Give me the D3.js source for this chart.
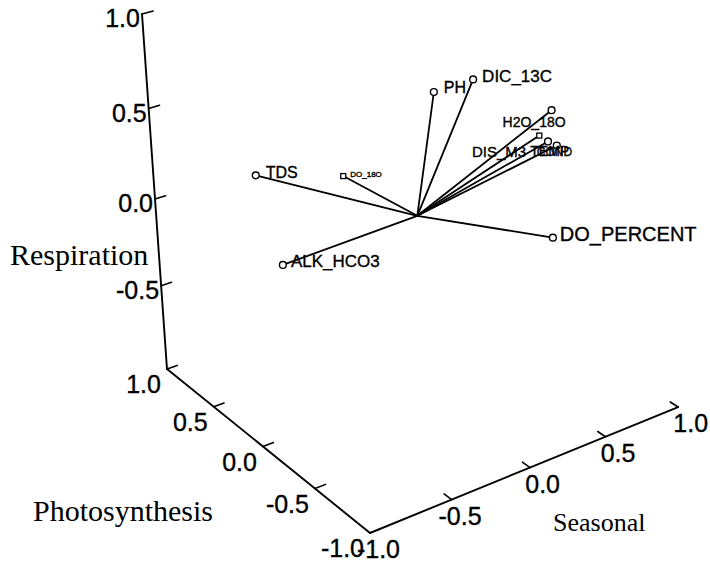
<!DOCTYPE html>
<html>
<head>
<meta charset="utf-8">
<script src="https://cdn.jsdelivr.net/npm/d3@7"></script>
<style>
  body { margin: 0; background: #fff; }
  text { fill: #000; }
  text.sans { stroke: #000; stroke-width: 0.35px; }
</style>
</head>
<body>
<svg id="chart" width="710" height="568"></svg>
<script>
// loadings of each variable on the three components
var variables = ["TDS", "DO_18O", "ALK_HCO3", "PH", "DIC_13C", "H2O_18O", "TEMP", "DIS_M3", "COND", "DO_PERCENT"];
var seasonal = [-0.73, -0.13, -0.65, 0.18, 0.21, 0.64, 0.72, 0.74, 0.76, 0.59];
var photosynthesis = [0.40, 0.50, 0.30, 0.10, -0.20, -0.30, -0.10, -0.15, -0.20, -0.40];
var respiration = [0.28, 0.07, -0.20, 0.59, 0.75, 0.51, 0.28, 0.26, 0.25, -0.14];

var tickValues = [-1, -0.5, 0, 0.5, 1];
var tickLabels = ["-1.0", "-0.5", "0.0", "0.5", "1.0"];

// label placement / look for each variable (pixels)
var labelStyle = {
  TDS:        {dx: 10,  dy: 3,  size: 16},
  DO_18O:     {dx: 7,   dy: 1,  size: 8},
  ALK_HCO3:   {dx: 8,   dy: 2,  size: 17},
  PH:         {dx: 10,  dy: 1,  size: 16},
  DIC_13C:    {dx: 9,   dy: 3,  size: 17},
  H2O_18O:    {dx: -49, dy: 17, size: 14},
  TEMP:       {dx: -9,  dy: 20, size: 14},
  DIS_M3:     {dx: -76, dy: 16, size: 15},
  COND:       {dx: -20, dy: 10, size: 12},
  DO_PERCENT: {dx: 7,   dy: 3,  size: 20}
};
var squareMarked = ["DO_18O", "TEMP"];

var svg = d3.select("#chart");

// data value -> unit box coordinate
var unit = d3.scaleLinear().domain([-1, 1]).range([0, 1]);

// perspective camera (homogeneous 3x4), columns: seasonal, photosynthesis, respiration, 1
var cam = [
  [363, -183.8, -40.8, 370],
  [-93, -121.6, -397.1, 533],
  [0.081, 0.115, -0.091, 1]
];

function project(s, p, r) {
  var v = [unit(s), unit(p), unit(r), 1];
  var h = cam.map(function(row) {
    return d3.sum(row, function(c, i) { return c * v[i]; });
  });
  return [h[0] / h[2], h[1] / h[2]];
}

var line = d3.line();
var tickLen = 0.065;

function seg(a, b, w) {
  svg.append("path")
    .attr("d", line([a, b]))
    .attr("fill", "none")
    .attr("stroke", "#000")
    .attr("stroke-width", w || 1.9)
    .attr("stroke-linecap", "round");
}

// axes
seg(project(-1, -1, -1), project(1, -1, -1));   // seasonal
seg(project(-1, -1, -1), project(-1, 1, -1));   // photosynthesis
seg(project(-1, 1, -1), project(-1, 1, 1));     // respiration

var tickFont = "'Liberation Sans', Arial, sans-serif";

tickValues.forEach(function(k, i) {
  // seasonal
  var ps = project(k, -1, -1);
  if (k > -1) seg(ps, project(k, -1 + tickLen, -1), 1.6);
  svg.append("text").attr("class", "sans")
    .attr("x", ps[0] + 30).attr("y", ps[1] + 25)
    .attr("text-anchor", "end")
    .style("font-family", tickFont).style("font-size", "25px")
    .text(tickLabels[i]);

  // photosynthesis
  var pp = project(-1, k, -1);
  if (k > -1) seg(pp, project(-1 + tickLen, k, -1), 1.6);
  svg.append("text").attr("class", "sans")
    .attr("x", pp[0] - 6).attr("y", pp[1] + 24)
    .attr("text-anchor", "end")
    .style("font-family", tickFont).style("font-size", "25px")
    .text(tickLabels[i]);

  // respiration
  if (k > -1) {
    var pr = project(-1, 1, k);
    seg(pr, project(-1 + tickLen, 1, k), 1.6);
    svg.append("text").attr("class", "sans")
      .attr("x", pr[0] - 2).attr("y", pr[1] + 13)
      .attr("text-anchor", "end")
      .style("font-family", tickFont).style("font-size", "25px")
      .text(tickLabels[i]);
  }
});

// axis titles
var titleFont = "'Liberation Serif', 'Times New Roman', serif";
svg.append("text").attr("x", 10).attr("y", 265)
  .style("font-family", titleFont).style("font-size", "30px").text("Respiration");
svg.append("text").attr("x", 33).attr("y", 521)
  .style("font-family", titleFont).style("font-size", "30px").text("Photosynthesis");
svg.append("text").attr("x", 553).attr("y", 531)
  .style("font-family", titleFont).style("font-size", "26px").text("Seasonal");

// loading vectors
var origin = project(0, 0, 0);
var pts = variables.map(function(name, i) {
  return {name: name, xy: project(seasonal[i], photosynthesis[i], respiration[i])};
});

pts.forEach(function(d) { seg(origin, d.xy, 1.8); });

pts.forEach(function(d) {
  if (squareMarked.indexOf(d.name) >= 0) {
    svg.append("rect")
      .attr("x", d.xy[0] - 2.5).attr("y", d.xy[1] - 2.5)
      .attr("width", 5).attr("height", 5)
      .attr("fill", "#fff").attr("stroke", "#000").attr("stroke-width", 1.3);
  } else {
    svg.append("circle")
      .attr("cx", d.xy[0]).attr("cy", d.xy[1]).attr("r", 3.4)
      .attr("fill", "#fff").attr("stroke", "#000").attr("stroke-width", 1.4);
  }
});

pts.forEach(function(d) {
  var st = labelStyle[d.name];
  svg.append("text").attr("class", "sans")
    .attr("x", d.xy[0] + st.dx).attr("y", d.xy[1] + st.dy)
    .style("font-family", tickFont).style("font-size", st.size + "px")
    .text(d.name);
});
</script>
</body>
</html>
